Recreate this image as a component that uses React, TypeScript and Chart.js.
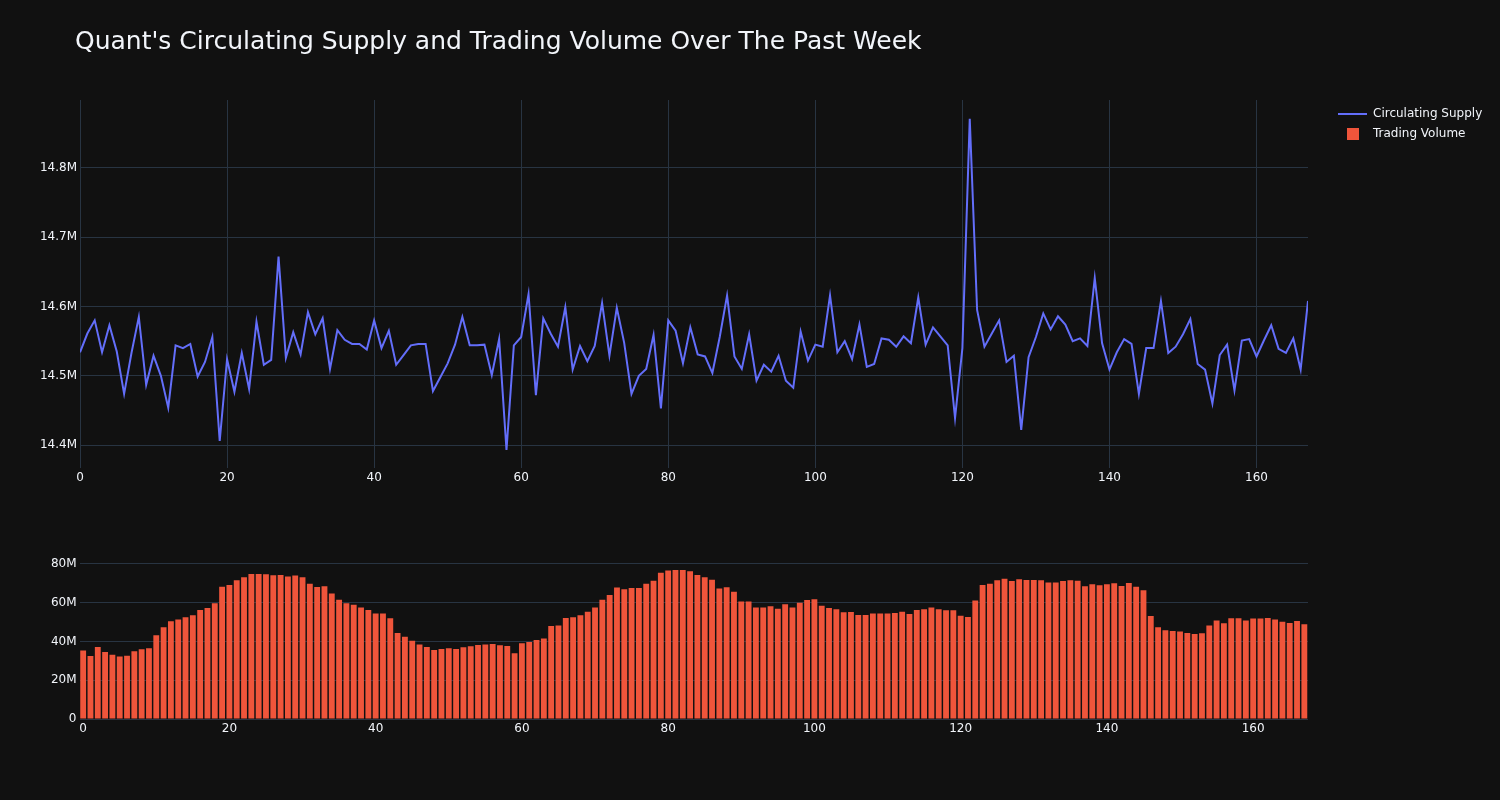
import React, { useEffect, useRef } from "react";
import { Chart, registerables } from "chart.js";

Chart.register(...registerables);

const TITLE = "Quant's Circulating Supply and Trading Volume Over The Past Week";
const SUPPLY_LABEL = "Circulating Supply";
const VOLUME_LABEL = "Trading Volume";

// Circulating supply, in millions
const supply: number[] = [
  14.534, 14.561, 14.58, 14.534, 14.573, 14.535, 14.474, 14.533, 14.585, 14.487,
  14.529, 14.5, 14.454, 14.544, 14.54, 14.546, 14.499, 14.52, 14.556, 14.406,
  14.524, 14.477, 14.533, 14.481, 14.578, 14.516, 14.523, 14.672, 14.526, 14.563,
  14.531, 14.592, 14.56, 14.583, 14.51, 14.566, 14.552, 14.546, 14.546, 14.538,
  14.58, 14.54, 14.565, 14.516, 14.53, 14.544, 14.546, 14.546, 14.478, 14.498,
  14.518, 14.545, 14.585, 14.544, 14.544, 14.545, 14.501, 14.553, 14.393, 14.544,
  14.556, 14.618, 14.472, 14.583, 14.561, 14.542, 14.599, 14.509, 14.543, 14.521,
  14.543, 14.605, 14.529, 14.598, 14.548, 14.474, 14.5, 14.51, 14.559, 14.453,
  14.58, 14.565, 14.518, 14.57, 14.531, 14.528, 14.504, 14.556, 14.616, 14.528,
  14.51, 14.56, 14.493, 14.516, 14.506, 14.529, 14.493, 14.483, 14.564, 14.522,
  14.545, 14.542, 14.616, 14.534, 14.55, 14.524, 14.574, 14.513, 14.517, 14.554,
  14.552, 14.542, 14.557, 14.547, 14.613, 14.545, 14.57, 14.557, 14.544, 14.439,
  14.54, 14.871, 14.595, 14.542, 14.561, 14.58, 14.52, 14.529, 14.422, 14.527,
  14.556, 14.59, 14.567, 14.586, 14.574, 14.55, 14.554, 14.543, 14.641, 14.547,
  14.509, 14.534, 14.553, 14.546, 14.474, 14.54, 14.54, 14.608, 14.533, 14.542,
  14.56, 14.582, 14.517, 14.509, 14.46, 14.53, 14.545, 14.479, 14.551, 14.553,
  14.528, 14.551, 14.573, 14.539, 14.533, 14.554, 14.509, 14.608,
];

// Trading volume, in millions
const volume: number[] = [
  35.4, 32.5, 37.2, 34.6, 33.2, 32.3, 32.7, 34.9, 36.0, 36.5,
  43.2, 47.3, 50.4, 51.3, 52.5, 53.5, 56.3, 57.3, 59.7, 68.3,
  69.2, 71.6, 73.1, 74.8, 74.8, 74.7, 74.2, 74.3, 73.6, 74.0,
  73.1, 69.8, 68.1, 68.5, 64.7, 61.6, 59.7, 59.0, 57.5, 56.3,
  54.5, 54.5, 52.0, 44.4, 42.5, 40.4, 38.4, 37.2, 35.6, 36.1,
  36.5, 36.1, 37.0, 37.5, 38.2, 38.4, 38.7, 38.0, 37.7, 33.9,
  39.1, 39.7, 40.8, 41.6, 48.0, 48.2, 52.1, 52.5, 53.5, 55.4,
  57.6, 61.6, 64.0, 67.8, 66.9, 67.6, 67.6, 69.8, 71.4, 75.5,
  76.6, 76.9, 76.9, 76.2, 74.3, 73.1, 71.9, 67.3, 68.0, 65.7,
  60.6, 60.6, 57.5, 57.5, 58.2, 56.9, 59.2, 57.6, 60.0, 61.4,
  61.8, 58.5, 57.3, 56.6, 55.1, 55.2, 53.7, 53.7, 54.5, 54.5,
  54.4, 54.7, 55.4, 54.2, 56.3, 56.6, 57.5, 56.6, 56.1, 56.1,
  53.3, 52.6, 61.1, 69.2, 69.8, 71.6, 72.4, 71.2, 72.1, 71.7,
  71.7, 71.6, 70.5, 70.5, 71.2, 71.6, 71.4, 68.5, 69.5, 69.0,
  69.5, 70.0, 68.6, 70.2, 68.3, 66.4, 53.2, 47.3, 45.8, 45.4,
  45.1, 44.4, 43.9, 44.2, 48.3, 50.8, 49.4, 52.0, 52.0, 50.8,
  51.8, 51.8, 52.1, 51.4, 50.2, 49.5, 50.6, 48.9,
];

// Hour index categories
const hours: number[] = supply.map((_, i) => i);

// Tick labels
const supplyTicks: string[] = ["14.4M", "14.5M", "14.6M", "14.7M", "14.8M"];

const BG = "#111111";
const TEXT = "#f2f5fa";
const GRID = "#283442";
const LINE_COLOR = "#636efa";
const BAR_COLOR = "#EF553B";
const FONT = '"DejaVu Sans", sans-serif';

const fmtSupply = (v: number) => v.toFixed(1) + "M";
const fmtVolume = (v: number) => (v === 0 ? "0" : Math.round(v) + "M");

export default function App() {
  const topRef = useRef<HTMLCanvasElement | null>(null);
  const botRef = useRef<HTMLCanvasElement | null>(null);

  useEffect(() => {
    document.body.style.margin = "0";
    document.body.style.background = BG;
    Chart.defaults.color = TEXT;
    Chart.defaults.font.family = FONT;
    Chart.defaults.font.size = 12;

    // measure texts to place the legend and the mirrored y labels
    const mc = document.createElement("canvas").getContext("2d")!;
    mc.font = `12px ${FONT}`;
    const tw = Math.max(mc.measureText(SUPPLY_LABEL).width, mc.measureText(VOLUME_LABEL).width);
    const widestTick = Math.max(...supplyTicks.map((t) => mc.measureText(t).width));
    const legendPad = 8;
    const symW = 29;
    const legendW = legendPad + symW + 6 + tw + 10;
    const spacer = 22;
    const padR = Math.max(0, 1500 - 1308 - spacer - legendW);

    const sq = document.createElement("canvas");
    sq.width = 12;
    sq.height = 12;
    const sctx = sq.getContext("2d")!;
    sctx.fillStyle = BAR_COLOR;
    sctx.fillRect(0, 0, 12, 12);

    const top = new Chart(topRef.current!, {
      type: "line",
      data: {
        datasets: [
          {
            label: SUPPLY_LABEL,
            data: hours.map((h, i) => ({ x: h, y: supply[i] })),
            borderColor: LINE_COLOR,
            backgroundColor: LINE_COLOR,
            borderWidth: 2,
            pointRadius: 0,
            tension: 0,
            xAxisID: "x",
            yAxisID: "y",
          },
          {
            label: VOLUME_LABEL,
            data: [],
            borderColor: BAR_COLOR,
            backgroundColor: BAR_COLOR,
            borderWidth: 0,
            pointRadius: 0,
            xAxisID: "x",
            yAxisID: "y",
          },
        ],
      },
      options: {
        animation: false,
        responsive: false,
        events: [],
        layout: { padding: { left: 75, right: padR, top: 0, bottom: 0 } },
        plugins: {
          title: {
            display: true,
            text: TITLE,
            align: "start",
            color: TEXT,
            font: { size: 25, weight: "normal", family: FONT },
            padding: { top: 27, bottom: 43 },
          },
          legend: {
            display: true,
            position: "right",
            align: "start",
            fullSize: false,
            labels: {
              usePointStyle: true,
              pointStyleWidth: symW,
              padding: legendPad,
              color: TEXT,
              font: { size: 12, family: FONT },
              generateLabels: (chart: any) => {
                const items = Chart.defaults.plugins.legend.labels.generateLabels(chart);
                items.forEach((it: any, i: number) => {
                  if (i === 0) {
                    it.pointStyle = "line";
                    it.strokeStyle = LINE_COLOR;
                    it.lineWidth = 2;
                  } else {
                    it.pointStyle = sq;
                    it.lineWidth = 0;
                  }
                  it.hidden = false;
                });
                return items;
              },
            },
          },
          tooltip: { enabled: false },
        },
        scales: {
          x: {
            type: "linear",
            min: 0,
            max: 167,
            border: { display: false },
            grid: { color: GRID, drawTicks: false, lineWidth: 1 },
            ticks: { stepSize: 20, includeBounds: false, padding: 3, color: TEXT, maxRotation: 0 },
            afterFit: (s: any) => {
              s.height = 32;
            },
          },
          y: {
            type: "linear",
            min: 14.367,
            max: 14.898,
            border: { display: false },
            grid: { color: GRID, drawTicks: false },
            ticks: {
              stepSize: 0.1,
              includeBounds: false,
              mirror: true,
              crossAlign: "far",
              padding: -3 - widestTick,
              color: TEXT,
              callback: (v: any) => fmtSupply(Number(v)),
            },
            afterFit: (s: any) => {
              s.width = 5;
            },
          },
          spacer: {
            type: "linear",
            position: "right",
            display: true,
            border: { display: false },
            grid: { display: false, drawTicks: false },
            ticks: { display: false },
            afterFit: (s: any) => {
              s.width = spacer;
            },
          },
        },
      } as any,
    });

    const bot = new Chart(botRef.current!, {
      type: "bar",
      data: {
        labels: hours.map(String),
        datasets: [
          {
            label: VOLUME_LABEL,
            data: volume,
            backgroundColor: BAR_COLOR,
            borderWidth: 0,
            barPercentage: 0.8,
            categoryPercentage: 1,
          },
        ],
      },
      options: {
        animation: false,
        responsive: false,
        events: [],
        layout: { padding: { left: 0, right: 192, top: 57, bottom: 0 } },
        plugins: { legend: { display: false }, title: { display: false }, tooltip: { enabled: false } },
        scales: {
          x: {
            type: "category",
            offset: true,
            border: { display: false },
            grid: { display: false, drawTicks: false },
            ticks: {
              autoSkip: false,
              maxRotation: 0,
              padding: 3,
              color: TEXT,
              callback: (_v: any, i: number) => (i % 20 === 0 ? String(hours[i]) : ""),
            },
            afterFit: (s: any) => {
              s.height = 81;
            },
          },
          y: {
            type: "linear",
            min: 0,
            max: 83.6,
            border: { display: false },
            grid: { color: GRID, drawTicks: false },
            ticks: {
              stepSize: 20,
              includeBounds: false,
              padding: 3,
              color: TEXT,
              callback: (v: any) => fmtVolume(Number(v)),
            },
            afterFit: (s: any) => {
              s.width = 79.5;
            },
          },
        },
      } as any,
    });

    return () => {
      top.destroy();
      bot.destroy();
    };
  }, []);

  return (
    <div style={{ position: "fixed", left: 0, top: 0, width: 1500, height: 800, background: BG }}>
      <canvas ref={topRef} width={1500} height={500} style={{ position: "absolute", left: 0, top: 0, width: 1500, height: 500 }} />
      <canvas ref={botRef} width={1500} height={300} style={{ position: "absolute", left: 0, top: 500, width: 1500, height: 300 }} />
    </div>
  );
}
